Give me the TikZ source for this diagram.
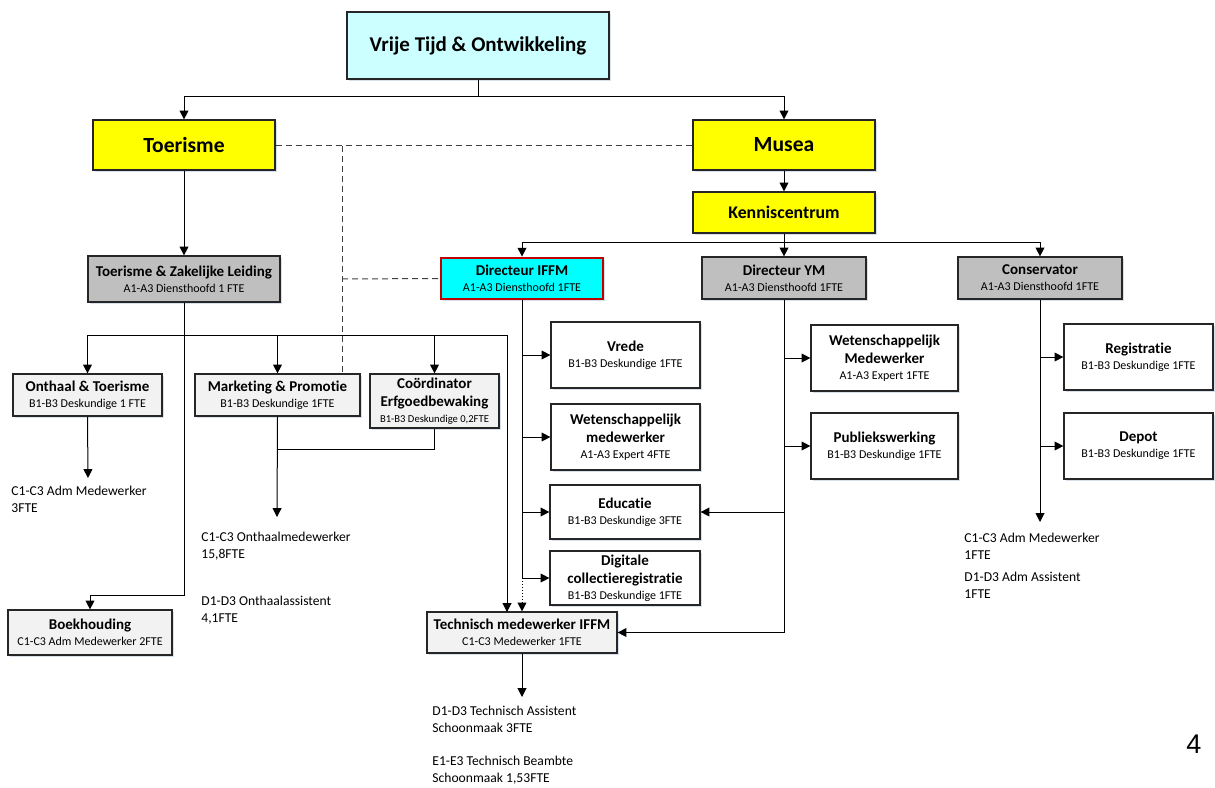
\documentclass[tikz,border=0pt]{standalone}
\usepackage{fontspec}
\setmainfont{Carlito}[Ligatures={NoCommon}]
\newfontfamily\arialf{Liberation Sans}
\usetikzlibrary{arrows.meta,shadows}
\definecolor{topc}{HTML}{CCFFFF}
\definecolor{yel}{HTML}{FFFF00}
\definecolor{grey1}{HTML}{BFBFBF}
\definecolor{grey2}{HTML}{F2F2F2}
\definecolor{cyanb}{HTML}{00FFFF}
\definecolor{redb}{HTML}{C00000}
\definecolor{shad}{HTML}{C9D3E6}
\newcommand{\bt}[2]{#1\\[-0.8pt]{\fontsize{6}{7.5}\selectfont\mdseries #2}}
\begin{document}
\begin{tikzpicture}[x=0.5pt,y=-0.5pt,
  box/.style={draw=black!85, line width=0.6pt, inner sep=1pt, align=center,
    font=\fontsize{7.5}{8.9}\selectfont\bfseries,
    drop shadow={shadow xshift=0.9pt,shadow yshift=-0.9pt,fill=shad,opacity=0.7}},
  wbox/.style={box, fill=white},
  gbox/.style={box, fill=grey1},
  lbox/.style={box, fill=grey2},
  ybox/.style={box, fill=yel},
  con/.style={line width=0.5pt, draw=black},
  arr/.style={con, -{Triangle[length=4.4pt,width=4.4pt]}},
  dsh/.style={con, draw=black!75, dash pattern=on 3pt off 2pt},
  lbl/.style={anchor=north west, align=left, inner sep=0pt, font=\fontsize{6.8}{8.2}\selectfont}
]
\useasboundingbox (0,0) rectangle (1215,787);

% top level
\node[box, fill=topc, minimum width=131pt, minimum height=33.5pt, font=\fontsize{10.5}{12}\selectfont\bfseries] (top) at (478,45.5) {Vrije Tijd \& Ontwikkeling};
\node[ybox, minimum width=91pt, minimum height=25pt, font=\fontsize{10.8}{12}\selectfont\bfseries] (toer) at (184,145) {Toerisme};
\node[ybox, minimum width=91pt, minimum height=25pt, font=\fontsize{10.8}{12}\selectfont\bfseries] (musea) at (784,145) {Musea};
\node[ybox, minimum width=91pt, minimum height=20.5pt, font=\fontsize{8.9}{10}\selectfont\bfseries] (kc) at (784,212.5) {Kenniscentrum};

% second level
\node[gbox, minimum width=96pt, minimum height=23pt] (tzl) at (184,279) {\bt{Toerisme \& Zakelijke Leiding}{A1-A3 Diensthoofd 1 FTE}};
\node[box, fill=cyanb, draw=redb, line width=1.4pt, minimum width=81pt, minimum height=20.5pt] (iffm) at (522,278.5) {\bt{Directeur IFFM}{A1-A3 Diensthoofd 1FTE}};
\node[gbox, minimum width=82pt, minimum height=21pt] (ym) at (784,278) {\bt{Directeur YM}{A1-A3 Diensthoofd 1FTE}};
\node[gbox, minimum width=82pt, minimum height=21pt] (cons) at (1040,278) {\bt{Conservator}{A1-A3 Diensthoofd 1FTE}};

% toerisme children
\node[lbox, minimum width=74.5pt, minimum height=21pt] (onth) at (87.5,395) {\bt{Onthaal \& Toerisme}{B1-B3 Deskundige 1 FTE}};
\node[lbox, minimum width=82.5pt, minimum height=21pt] (mark) at (277.5,395) {\bt{Marketing \& Promotie}{B1-B3 Deskundige 1FTE}};
\node[lbox, minimum width=64.5pt, minimum height=27pt] (coord) at (434.5,401) {Coördinator\\Erfgoedbewaking\\[-0.8pt]{\fontsize{5.3}{6.5}\selectfont\mdseries B1-B3 Deskundige 0,2FTE}};
\node[lbox, minimum width=82pt, minimum height=22.5pt] (boek) at (90,632.5) {\bt{Boekhouding}{C1-C3 Adm Medewerker 2FTE}};

% IFFM children
\node[wbox, minimum width=74.5pt, minimum height=33pt] (vrede) at (625.5,355) {\bt{Vrede}{B1-B3 Deskundige 1FTE}};
\node[wbox, minimum width=74.5pt, minimum height=33pt] (wet1) at (625.5,437) {Wetenschappelijk\\\bt{medewerker}{A1-A3 Expert 4FTE}};
\node[wbox, minimum width=75pt, minimum height=27pt] (edu) at (625,512) {\bt{Educatie}{B1-B3 Deskundige 3FTE}};
\node[wbox, minimum width=75pt, minimum height=27pt] (dig) at (625,578) {Digitale\\\bt{collectieregistratie}{B1-B3 Deskundige 1FTE}};
\node[lbox, minimum width=95pt, minimum height=20.5pt] (tech) at (522,632.5) {\bt{Technisch medewerker IFFM}{C1-C3 Medewerker 1FTE}};

% YM children
\node[wbox, minimum width=73.5pt, minimum height=33pt] (wet2) at (884.5,358) {Wetenschappelijk\\\bt{Medewerker}{A1-A3 Expert 1FTE}};
\node[wbox, minimum width=73.5pt, minimum height=33pt] (pub) at (884.5,446) {\bt{Publiekswerking}{B1-B3 Deskundige 1FTE}};

% Conservator children
\node[wbox, minimum width=74.5pt, minimum height=33pt] (reg) at (1138.5,357) {\bt{Registratie}{B1-B3 Deskundige 1FTE}};
\node[wbox, minimum width=74.5pt, minimum height=33pt] (depot) at (1138.5,446) {\bt{Depot}{B1-B3 Deskundige 1FTE}};

% free text labels
\node[lbl] (t1) at (11,486) {C1-C3 Adm Medewerker\\3FTE};
\node[lbl] (t2) at (201,532) {C1-C3 Onthaalmedewerker\\15,8FTE};
\node[lbl] (t3) at (201,596) {D1-D3 Onthaalassistent\\4,1FTE};
\node[lbl] (t4) at (964,533) {C1-C3 Adm Medewerker\\1FTE};
\node[lbl] (t5) at (964,572) {D1-D3 Adm Assistent\\1FTE};
\node[lbl] (t6) at (432,706) {D1-D3 Technisch Assistent\\Schoonmaak 3FTE};
\node[lbl] (t7) at (432,756) {E1-E3 Technisch Beambte\\Schoonmaak 1,53FTE};
\node[anchor=north west, inner sep=0pt, font=\arialf\fontsize{13.5}{14}\selectfont] (pg) at (1186,735) {4};

% coordinates
\coordinate (h0) at (0,96);
\coordinate (h1) at (0,335);
\coordinate (h2) at (0,595);
\coordinate (h3) at (0,449);
\coordinate (h4) at (0,242);
\coordinate (dv) at (342,146);
\coordinate (dh) at (342,279);
\coordinate (tr) at (507,335);
\coordinate (te) at (507,612);
\coordinate (e1) at (88,478);
\coordinate (e2) at (277,517);
\coordinate (e3) at (1040,522);
\coordinate (e4) at (522,697);

% connectors
\draw[con] (top.south) -- (top.south |- h0);
\draw[arr] (top.south |- h0) -| (toer.north);
\draw[arr] (top.south |- h0) -| (musea.north);
\draw[dsh] (toer.east) -- (musea.west);
\draw[dsh] (dv) -- (dv |- mark.north);
\draw[dsh] (dh) -- (iffm.west);
\draw[arr] (toer.south) -- (tzl.north);
\draw[arr] (musea.south) -- (kc.north);

\draw[arr] (tzl.south) -- (tzl.south |- h2) -| (boek.north);
\draw[arr] (tzl.south |- h1) -| (onth.north);
\draw[arr] (tzl.south |- h1) -| (mark.north);
\draw[arr] (tzl.south |- h1) -| (coord.north);
\draw[arr] (tzl.south |- h1) -- (tr) -- (te);
\draw[arr] (onth.south) -- (e1);
\draw[arr] (mark.south) -- (e2);
\draw[con] (coord.south) |- (mark.south |- h3);

\draw[con] (kc.south) -- (kc.south |- h4);
\draw[arr] (kc.south |- h4) -| (iffm.north);
\draw[arr] (kc.south |- h4) -| (ym.north);
\draw[arr] (kc.south |- h4) -| (cons.north);

\draw[con] (iffm.south) -- (iffm.south |- dig.west);
\draw[arr] (iffm.south |- vrede.west) -- (vrede.west);
\draw[arr] (iffm.south |- wet1.west) -- (wet1.west);
\draw[arr] (iffm.south |- edu.west) -- (edu.west);
\draw[arr] (iffm.south |- dig.west) -- (dig.west);
\draw[arr, densely dotted] (iffm.south |- dig.west) -- (tech.north);

\draw[con] (ym.south) -- (ym.south |- tech.east);
\draw[arr] (ym.south |- wet2.west) -- (wet2.west);
\draw[arr] (ym.south |- pub.west) -- (pub.west);
\draw[arr] (ym.south |- edu.east) -- (edu.east);
\draw[arr] (ym.south |- tech.east) -- (tech.east);

\draw[arr] (cons.south) -- (e3);
\draw[arr] (cons.south |- reg.west) -- (reg.west);
\draw[arr] (cons.south |- depot.west) -- (depot.west);

\draw[arr] (tech.south) -- (e4);
\end{tikzpicture}
\end{document}
